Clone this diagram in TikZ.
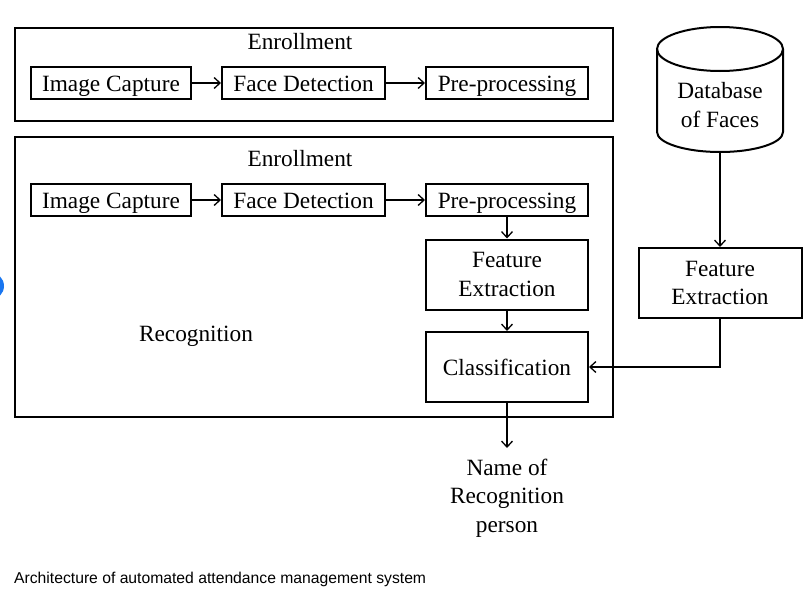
\documentclass[tikz,border=0pt]{standalone}
\usepackage{fontspec}
\setmainfont{Liberation Serif}
\newfontfamily\capfont{Liberation Sans}
\usetikzlibrary{arrows.meta}
\definecolor{dotblue}{RGB}{25,118,240}
\tikzset{
  box/.style={draw,line width=2pt,inner sep=0pt,align=center},
  onebox/.style={box,text height=19pt,text depth=2pt},
  frame/.style={line width=2pt},
  arr/.style={line width=1.3pt,-{Straight Barb[length=6pt,width=11pt,line width=1.3pt]}},
  lbl/.style={inner sep=0pt,align=center}
}
\begin{document}
\begin{tikzpicture}[x=1pt,y=-1pt,font=\fontsize{23.3}{28.5}\selectfont]
\useasboundingbox (0,0) rectangle (806,605);
\fill[dotblue] (-9.5,286) circle[radius=13.5pt];
% two frames
\draw[frame] (15,28) rectangle (613,121);
\draw[frame] (15,137) rectangle (613,417);
\node[lbl] (enr1) at (300,42) {Enrollment};
\node[lbl] (enr2) at (300,159) {Enrollment};
\node[lbl] (rec) at (196,336) {Recognition};
% enrollment row
\node[onebox,minimum width=160,minimum height=32] (ic1) at (111,83) {Image Capture};
\node[onebox,minimum width=163,minimum height=32] (fd1) at (303.5,83) {Face Detection};
\node[onebox,minimum width=162,minimum height=32] (pp1) at (507,83) {Pre-processing};
\draw[arr] (ic1) -- (fd1);
\draw[arr] (fd1) -- (pp1);
% recognition part
\node[onebox,minimum width=160,minimum height=32] (ic2) at (111,200) {Image Capture};
\node[onebox,minimum width=163,minimum height=32] (fd2) at (303.5,200) {Face Detection};
\node[onebox,minimum width=162,minimum height=32] (pp2) at (507,200) {Pre-processing};
\node[box,minimum width=162,minimum height=70] (fe2) at (507,274.5) {Feature\\Extraction};
\node[onebox,minimum width=162,minimum height=70] (cl) at (507,367) {Classification};
\draw[arr] (ic2) -- (fd2);
\draw[arr] (fd2) -- (pp2);
\draw[arr] (pp2) -- (fe2);
\draw[arr] (fe2) -- (cl);
% database
\draw[frame] (657,49) -- (657,132) arc[start angle=180,end angle=360,x radius=63pt,y radius=20pt] -- (783,49);
\draw[frame] (720,49) ellipse[x radius=63pt,y radius=22pt];
\node[lbl] (db) at (720,105) {Database\\of Faces};
\coordinate (dbbot) at (720,152);
\node[box,minimum width=163,minimum height=70] (fe3) at (720,283) {Feature\\Extraction};
\draw[arr] (dbbot) -- (fe3);
\draw[arr] (fe3.south) |- (cl.east);
% result
\node[lbl] (out) at (507,498) {Name of\\Recognition\\person};
\coordinate (outtop) at (507,448);
\draw[arr] (cl) -- (outtop);
\node[anchor=west,inner sep=0pt,font=\capfont\fontsize{15.7}{18}\selectfont] (cap) at (14,579) {Architecture of automated attendance management system};
\end{tikzpicture}
\end{document}
